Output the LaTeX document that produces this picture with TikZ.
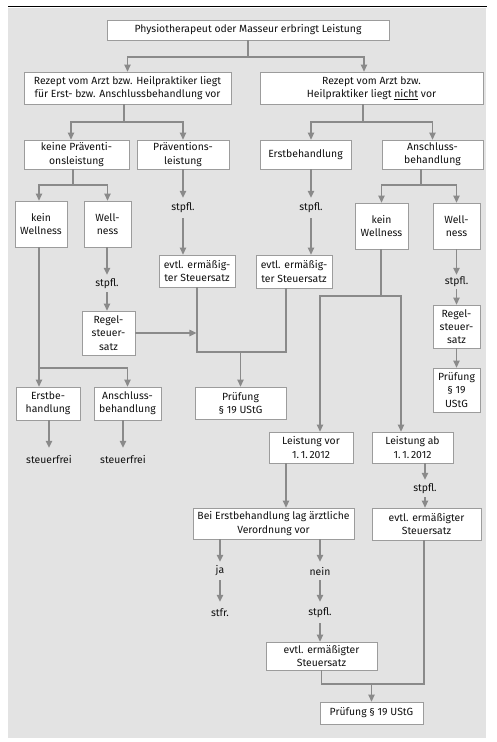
\documentclass[tikz,border=0pt]{standalone}
\usepackage{fontspec}
\setmainfont{Fira Sans}
\usetikzlibrary{arrows.meta,calc}
\definecolor{panel}{HTML}{E3E3E3}
\definecolor{lngray}{HTML}{8A8A8A}
\definecolor{boxgray}{HTML}{9C9C9C}
\definecolor{txt}{HTML}{111111}
\tikzset{
  bx/.style={draw=boxgray, fill=white, line width=0.8pt, inner sep=0pt, align=center, text=txt,
    font=\fontsize{10.4pt}{13.2pt}\selectfont},
  lbl/.style={inner sep=0pt, align=center, text=txt, minimum width=30pt,
    font=\fontsize{10.4pt}{13.2pt}\selectfont},
  ln/.style={draw=lngray, line width=1.2pt},
  arr/.style={ln, -{Triangle[width=6.5pt,length=7pt]}, color=lngray},
}
\begin{document}
\begin{tikzpicture}[x=1pt,y=-1pt]
\useasboundingbox (0,0) rectangle (496,742);
\fill[white] (0,0) rectangle (496,742);
\fill[panel] (8,7.5) rectangle (486,738);
\draw[black, line width=1.6pt] (8,6.5) -- (486.5,6.5);

% boxes
\node[bx, minimum width=282pt, minimum height=20pt] (top) at (248,30) {Physiotherapeut oder Masseur erbringt Leistung};
\node[bx, minimum width=207pt, minimum height=32pt] (A) at (127.5,88) {Rezept vom Arzt bzw. Heilpraktiker liegt\\für Erst- bzw. Anschlussbehandlung vor};
\node[bx, minimum width=223pt, minimum height=32pt] (B) at (371.5,88) {Rezept vom Arzt bzw.\\Heilpraktiker liegt \underline{nicht} vor};
\node[bx, minimum width=105pt, minimum height=29pt] (A1) at (76.5,154.5) {keine Präventi-\\onsleistung};
\node[bx, minimum width=92pt, minimum height=29pt] (A2) at (183,154.5) {Präventions-\\leistung};
\node[bx, minimum width=91pt, minimum height=29pt] (B1) at (305.5,154.5) {Erstbehandlung};
\node[bx, minimum width=101pt, minimum height=29pt] (B2) at (432.5,154.5) {Anschluss-\\behandlung};
\node[bx, minimum width=52pt, minimum height=46pt] (KW1) at (41,224) {kein\\Wellness};
\node[bx, minimum width=47pt, minimum height=46pt] (W1) at (107.5,224) {Well-\\ness};
\node[lbl, minimum height=20pt] (s1) at (183,208) {stpfl.};
\node[bx, minimum width=76pt, minimum height=32pt] (evA) at (197,271) {evtl. ermäßig-\\ter Steuersatz};
\node[lbl, minimum height=20pt] (s2) at (311,208) {stpfl.};
\node[bx, minimum width=76pt, minimum height=33pt] (evB) at (294,271.5) {evtl. ermäßig-\\ter Steuersatz};
\node[bx, minimum width=53pt, minimum height=46pt] (KW2) at (381.5,226) {kein\\Wellness};
\node[bx, minimum width=47pt, minimum height=46pt] (W2) at (456.5,226) {Well-\\ness};
\node[lbl, minimum height=17pt] (s3) at (107,283.5) {stpfl.};
\node[bx, minimum width=53pt, minimum height=44pt] (R1) at (108.5,333) {Regel-\\steuer-\\satz};
\node[lbl, minimum height=14pt] (s4) at (456.5,282) {stpfl.};
\node[bx, minimum width=47pt, minimum height=43pt] (R2) at (456.5,326.5) {Regel-\\steuer-\\satz};
\node[bx, minimum width=47pt, minimum height=44pt] (P2) at (456.5,390) {Prüfung\\§ 19\\UStG};
\node[bx, minimum width=91pt, minimum height=32pt] (P1) at (240.5,403) {Prüfung\\§ 19 UStG};
\node[bx, minimum width=64pt, minimum height=33pt] (E1) at (48,403.5) {Erstbe-\\handlung};
\node[bx, minimum width=67pt, minimum height=33pt] (AN1) at (127.5,403.5) {Anschluss-\\behandlung};
\node[lbl, minimum height=22pt] (sf1) at (49,459) {steuerfrei};
\node[lbl, minimum height=22pt] (sf2) at (123,459) {steuerfrei};
\node[bx, minimum width=84pt, minimum height=31pt] (LV) at (311,447.5) {Leistung vor\\1.\,1.\,2012};
\node[bx, minimum width=81pt, minimum height=31pt] (LA) at (412.5,447.5) {Leistung ab\\1.\,1.\,2012};
\node[lbl, minimum height=17pt] (s5) at (425,488.5) {stpfl.};
\node[bx, minimum width=109pt, minimum height=32pt] (evR) at (426.5,524) {evtl. ermäßigter\\Steuersatz};
\node[bx, minimum width=161pt, minimum height=31pt] (BE) at (273.5,523.5) {Bei Erstbehandlung lag ärztliche\\Verordnung vor};
\node[lbl, minimum height=18pt] (ja) at (220,571) {ja};
\node[lbl, minimum height=21pt] (stfr) at (220,612.5) {stfr.};
\node[lbl, minimum height=18pt] (nein) at (320,571) {nein};
\node[lbl, minimum height=21pt] (s6) at (320,612.5) {stpfl.};
\node[bx, minimum width=111pt, minimum height=28pt] (evC) at (321.5,656) {evtl. ermäßigter\\Steuersatz};
\node[bx, minimum width=103pt, minimum height=22pt] (P3) at (371.5,713) {Prüfung § 19 UStG};

% junction coordinates
\coordinate (j1) at (248,57);
\coordinate (jA) at (124,122);
\coordinate (jB) at (363,122);
\coordinate (jA1) at (73,185);
\coordinate (jB2) at (421,185);
\coordinate (jK1) at (39,368);
\coordinate (jK2) at (381,296);
\coordinate (jE) at (197,352);
\coordinate (jE2) at (286,352);
\coordinate (cLV) at (286,0);
\coordinate (jR) at (424,684);

% connectors
\draw[ln] (top.south) -- (j1);
\draw[arr] (j1) -| (A.north);
\draw[arr] (j1) -| ([xshift=-7.5pt]B.north);

\draw[ln] (A.south -| jA) -- (jA);
\draw[arr] (jA) -| ([xshift=-5.5pt]A1.north);
\draw[arr] (jA) -| (A2.north);

\draw[ln] (B.south -| jB) -- (jB);
\draw[arr] (jB) -| ([xshift=5.5pt]B1.north);
\draw[arr] (jB) -| (B2.north);

\draw[ln] (A1.south -| jA1) -- (jA1);
\draw[arr] (jA1) -| ([xshift=-2pt]KW1.north);
\draw[arr] (jA1) -| (W1.north);

\draw[arr] (A2.south) -- (s1.north);
\draw[arr] (s1.south) -- (evA.north -| s1.south);

\draw[arr] (B1.south -| s2.north) -- (s2.north);
\draw[arr] (s2.south) -- (evB.north -| s2.south);

\draw[ln] (B2.south -| jB2) -- (jB2);
\draw[arr] (jB2) -| (KW2.north);
\draw[arr] (jB2) -| (W2.north);

\draw[arr] (KW1.south -| jK1) -- (E1.north -| jK1);
\draw[arr] (jK1) -| (AN1.north);

\draw[arr] (W1.south -| s3.north) -- (s3.north);
\draw[arr] (s3.south) -- (R1.north -| s3.south);
\draw[arr, shorten >=0.6pt] (R1.east) -- (R1.east -| jE);

\draw[ln] (evA.south) -- (jE) -- (jE2) -- (evB.south -| jE2);
\draw[arr] (P1.north |- jE) -- (P1.north);

\draw[arr] (W2.south) -- (s4.north);
\draw[arr] (s4.south) -- (R2.north);
\draw[arr] (R2.south) -- (P2.north);

\draw[ln] (KW2.south -| jK2) -- (jK2);
\draw[arr] (jK2) -| ([xshift=9pt]LV.north);
\draw[arr] (jK2) -| ([xshift=-11.5pt]LA.north);

\draw[arr] (E1.south -| sf1.north) -- (sf1.north);
\draw[arr] (AN1.south -| sf2.north) -- (sf2.north);

\draw[arr] (LV.south -| cLV) -- (BE.north -| cLV);
\draw[arr] (LA.south -| s5.north) -- (s5.north);
\draw[arr] (s5.south) -- (evR.north -| s5.south);

\draw[arr] (BE.south -| ja.north) -- (ja.north);
\draw[arr] (ja.south) -- (stfr.north);
\draw[arr] (BE.south -| nein.north) -- (nein.north);
\draw[arr] (nein.south) -- (s6.north);
\draw[arr] (s6.south) -- (evC.north -| s6.south);

\draw[ln] (evC.south) |- (jR) -- (evR.south -| jR);
\draw[arr] (P3.north |- jR) -- (P3.north);
\end{tikzpicture}
\end{document}
